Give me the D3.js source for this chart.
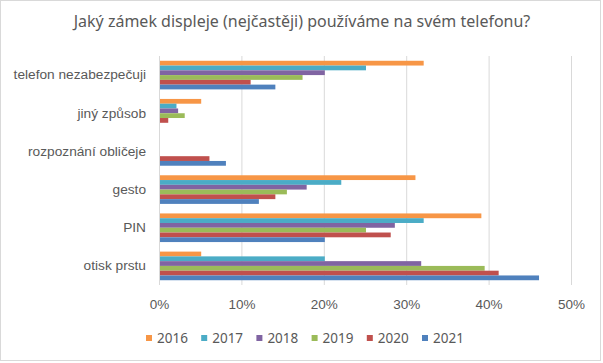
<!DOCTYPE html>
<html lang="cs">
<head>
    <meta charset="utf-8">
    <title>Zámek displeje</title>
    <style type="text/css">
        body { margin: 0; background: #fff; }
        svg { font-family: "Noto Sans", "Open Sans", sans-serif; }
        .axis text { fill: #595959; }
        .grid line { stroke: #d9d9d9; }
    </style>
</head>
<body>
<svg class="chart" width="603" height="363"></svg>
<script src="https://d3js.org/d3.v7.min.js"></script>
<script>
    // data
    var categories = ['telefon nezabezpečuji', 'jiný způsob', 'rozpoznání obličeje', 'gesto', 'PIN', 'otisk prstu'];
    var years = ['2016', '2017', '2018', '2019', '2020', '2021'];
    var colors = ['#f79646', '#4bacc6', '#8064a2', '#9bbb59', '#c0504d', '#4f81bd'];
    // values in %, one array per year, in the order of categories
    var v2016 = [32, 5, 0, 31, 39, 5];
    var v2017 = [25, 2, 0, 22, 32, 20];
    var v2018 = [20, 2.2, 0, 17.8, 28.5, 31.7];
    var v2019 = [17.3, 3, 0, 15.4, 25, 39.4];
    var v2020 = [11, 1, 6, 14, 28, 41.1];
    var v2021 = [14, 0, 8, 12, 20, 46];
    var series = [v2016, v2017, v2018, v2019, v2020, v2021];
    var ticks = [0, 10, 20, 30, 40, 50];

    var svg = d3.select('.chart'),
        width = +svg.attr('width'),
        height = +svg.attr('height'),
        padding = {top: 56, right: 32, bottom: 78, left: 159},
        w = width - padding.left - padding.right,
        h = height - padding.top - padding.bottom;

    // outer border
    svg.append('rect')
        .attr('x', 0.5).attr('y', 0.5)
        .attr('width', width - 3).attr('height', height - 3)
        .attr('fill', '#fff')
        .attr('stroke', '#d9d9d9');

    svg.append('text')
        .attr('x', 302).attr('y', 27)
        .attr('text-anchor', 'middle')
        .attr('font-size', 16)
        .attr('fill', '#595959')
        .text('Jaký zámek displeje (nejčastěji) používáme na svém telefonu?');

    var g = svg.append('g')
        .attr('transform', 'translate(' + padding.left + ',' + padding.top + ')');

    var x = d3.scaleLinear().domain([0, 50]).range([0, w]);
    var y0 = d3.scaleBand().domain(categories).range([0, h]).paddingInner(0.25).paddingOuter(0.125);
    var y1 = d3.scaleBand().domain(years).range([0, y0.bandwidth()]);

    // gridlines
    g.append('g')
        .attr('class', 'grid')
        .selectAll('line')
        .data(ticks)
        .join('line')
        .attr('x1', function(d) { return x(d) + 0.5; })
        .attr('x2', function(d) { return x(d) + 0.5; })
        .attr('y1', 0)
        .attr('y2', h);

    // bars
    var rows = categories.map(function(c, i) {
        return {cat: c, vals: series.map(function(s, k) { return {year: years[k], value: s[i], color: colors[k]}; })};
    });

    g.selectAll('.group')
        .data(rows)
        .join('g')
        .attr('class', 'group')
        .attr('transform', function(d) { return 'translate(0,' + y0(d.cat) + ')'; })
        .selectAll('rect')
        .data(function(d) { return d.vals; })
        .join('rect')
        .attr('x', x(0) + 1)
        .attr('y', function(d) { return y1(d.year); })
        .attr('height', y1.bandwidth())
        .attr('width', function(d) { return Math.max(0, x(d.value) - x(0)); })
        .attr('fill', function(d) { return d.color; });

    // axes
    var xAxis = d3.axisBottom(x)
        .tickValues(ticks)
        .tickSize(0)
        .tickPadding(14)
        .tickFormat(function(d) { return d + '%'; });

    g.append('g')
        .attr('class', 'axis axis-x')
        .attr('transform', 'translate(0,' + h + ')')
        .call(xAxis)
        .call(function(s) { s.select('.domain').remove(); })
        .selectAll('text').attr('font-size', 13.5);

    var yAxis = d3.axisLeft(y0).tickSize(0).tickPadding(13);
    g.append('g')
        .attr('class', 'axis axis-y')
        .call(yAxis)
        .call(function(s) { s.select('.domain').remove(); })
        .selectAll('text').attr('font-size', 13.7);

    // legend
    var legend = svg.append('g')
        .attr('transform', 'translate(146,338)')
        .selectAll('g')
        .data(years)
        .join('g')
        .attr('transform', function(d, i) { return 'translate(' + (i * 55.2) + ',0)'; });

    legend.append('rect')
        .attr('x', 0).attr('y', -3)
        .attr('width', 6).attr('height', 6)
        .attr('fill', function(d, i) { return colors[i]; });

    legend.append('text')
        .attr('x', 11).attr('y', 0)
        .attr('dy', '0.35em')
        .attr('font-size', 13.5)
        .attr('fill', '#595959')
        .text(function(d) { return d; });
</script>
</body>
</html>
